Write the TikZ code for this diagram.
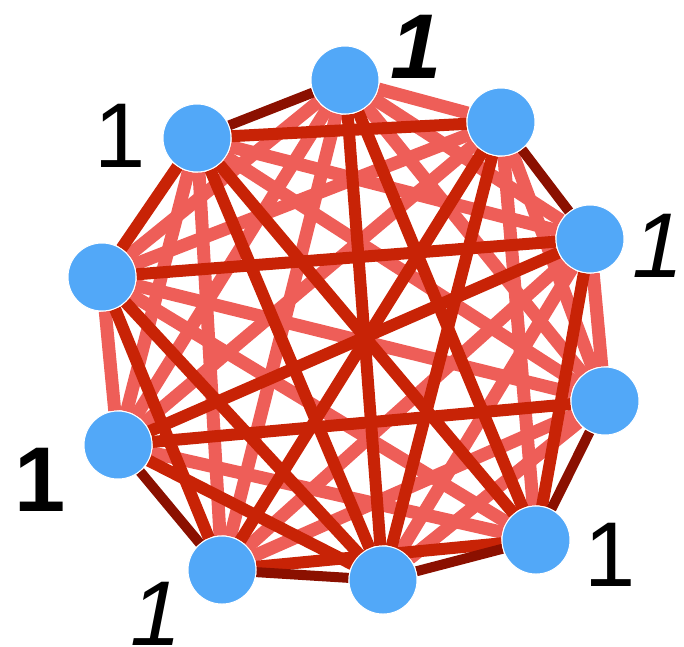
\documentclass[tikz,border=0pt]{standalone}
\usepackage{fontspec}
\setmainfont{Liberation Sans}
\pgfdeclarelayer{background}
\pgfsetlayers{background,main}
\definecolor{nodeblue}{HTML}{52A8F8}
\definecolor{lightred}{HTML}{EE5E58}
\definecolor{midred}{HTML}{C82306}
\definecolor{darkred}{HTML}{8B1000}
\begin{document}
\begin{tikzpicture}[x=1pt,y=-1pt,
  vert/.style={circle,fill=nodeblue,draw=white,line width=1pt,minimum size=68pt,inner sep=0pt},
  el/.style={draw=lightred,line width=13pt},
  em/.style={draw=midred,line width=12pt},
  ed/.style={draw=darkred,line width=10pt},
  lab/.style={inner sep=0pt,anchor=base,font=\fontsize{92}{92}\selectfont}]
\useasboundingbox (0,0) rectangle (684,646);
\node[vert] (A) at (345,80) {};
\node[vert] (B) at (501,122) {};
\node[vert] (C) at (590,239) {};
\node[vert] (D) at (605,401) {};
\node[vert] (E) at (536,540) {};
\node[vert] (F) at (383,580) {};
\node[vert] (G) at (222,570) {};
\node[vert] (H) at (118,445) {};
\node[vert] (I) at (102,277) {};
\node[vert] (J) at (197,138) {};
\begin{pgfonlayer}{background}
% light edges
\draw[el] (A) -- (B);
\draw[el] (C) -- (D);
\draw[el] (H) -- (I);
\draw[el] (A) -- (C);
\draw[el] (A) -- (D);
\draw[el] (A) -- (G);
\draw[el] (A) -- (H);
\draw[el] (A) -- (I);
\draw[el] (B) -- (D);
\draw[el] (B) -- (E);
\draw[el] (B) -- (H);
\draw[el] (B) -- (I);
\draw[el] (C) -- (F);
\draw[el] (C) -- (G);
\draw[el] (C) -- (J);
\draw[el] (D) -- (F);
\draw[el] (D) -- (G);
\draw[el] (D) -- (I);
\draw[el] (D) -- (J);
\draw[el] (E) -- (H);
\draw[el] (E) -- (I);
\draw[el] (G) -- (J);
\draw[el] (H) -- (J);
% medium edges
\draw[em] (I) -- (J);
\draw[em] (A) -- (E);
\draw[em] (A) -- (F);
\draw[em] (B) -- (F);
\draw[em] (B) -- (G);
\draw[em] (B) -- (J);
\draw[em] (C) -- (E);
\draw[em] (C) -- (H);
\draw[em] (C) -- (I);
\draw[em] (D) -- (H);
\draw[em] (E) -- (G);
\draw[em] (E) -- (J);
\draw[em] (F) -- (H);
\draw[em] (F) -- (I);
\draw[em] (F) -- (J);
\draw[em] (G) -- (I);
% dark edges
\draw[ed] (B) -- (C);
\draw[ed] (D) -- (E);
\draw[ed] (E) -- (F);
\draw[ed] (F) -- (G);
\draw[ed] (G) -- (H);
\draw[ed] (J) -- (A);
\end{pgfonlayer}
% labels
\node[lab] (lJ) at (120,167) {1};
\node[lab] (lA) at (416,78) {\bfseries\itshape 1};
\node[lab] (lC) at (658,277) {\itshape 1};
\node[lab] (lH) at (40,511) {\bfseries 1};
\node[lab] (lG) at (156,645) {\itshape 1};
\node[lab] (lE) at (610,586) {1};
\end{tikzpicture}
\end{document}
